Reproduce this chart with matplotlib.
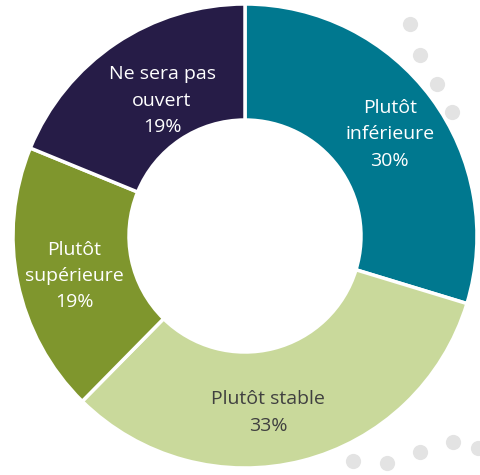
import numpy as np
import matplotlib.pyplot as plt

labels = ["Plutôt\ninférieure", "Plutôt stable", "Plutôt\nsupérieure", "Ne sera pas\nouvert"]
values = [30, 33, 19, 19]
colors = ["#00788F", "#C9D99B", "#7F962D", "#261C47"]
text_colors = ["white", "#404040", "white", "white"]
# label nudges in pixels (x right, y down) from the mid-ring position
nudges = [(5, 2), (-20, 8), (0, 5), (14, 9)]

# decorative grey dots (pixel positions in the original layout)
dots_x = [410, 420, 437, 452, 353, 387, 420, 453, 478]
dots_y = [24, 55, 84, 112, 461, 463, 452, 442, 448]

fig = plt.figure(figsize=(4.8, 4.75), dpi=100)
ax = fig.add_axes([0, 0, 1, 1])

cx, cy, scale = 245, 236, 232

dx = (np.array(dots_x) - cx) / scale
dy = (cy - np.array(dots_y)) / scale
ax.scatter(dx, dy, s=120, color="#E3E3E3", zorder=0, linewidths=0)

wedges, _ = ax.pie(values, colors=colors, startangle=90, counterclock=False,
                   radius=1, wedgeprops=dict(width=0.5, edgecolor="white", linewidth=2.5))

for w, lab, v, tc, nd in zip(wedges, labels, values, text_colors, nudges):
    ang = np.deg2rad((w.theta1 + w.theta2) / 2)
    r = 0.75
    ax.annotate(f"{lab}\n{v}%", (r * np.cos(ang), r * np.sin(ang)),
                xytext=(nd[0] * 0.72, -nd[1] * 0.72), textcoords="offset points",
                ha="center", va="center", color=tc, fontsize=14,
                family="Open Sans", linespacing=1.6)

ax.set_aspect("auto")
ax.set_xlim(-cx / scale, (480 - cx) / scale)
ax.set_ylim(-(475 - cy) / scale, cy / scale)
ax.axis("off")

fig.savefig("out.png", dpi=100)
